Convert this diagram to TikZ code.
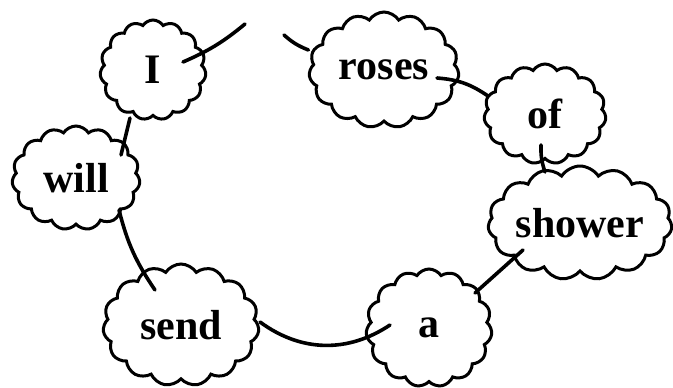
\documentclass[tikz,border=0pt]{standalone}
\usepackage{fontspec}
\setmainfont{Liberation Serif}
\usetikzlibrary{shapes.symbols,calc}
\begin{document}
\begin{tikzpicture}[x=1pt,y=-1pt,
  word/.style={cloud, cloud puffs=15, cloud puff arc=115, draw, line width=3pt,
    cloud ignores aspect, inner sep=0pt,
    font=\fontsize{42}{42}\selectfont\bfseries},
  link/.style={line width=3.6pt, line cap=round}]
\useasboundingbox (0,0) rectangle (673,388);
\node[word, minimum width=106, minimum height=100] (I) at (153,70) {I};
\node[word, minimum width=128, minimum height=104] (will) at (76,178) {will};
\node[word, minimum width=150, minimum height=116] (roses) at (384,70) {roses};
\node[word, minimum width=122, minimum height=100] (of) at (545,114) {of};
\node[word, minimum width=184, minimum height=114] (shower) at (580,223) {shower};
\node[word, minimum width=126, minimum height=118] (a) at (429,328) {a};
\node[word, minimum width=156, minimum height=122] (send) at (181,325) {send};
\coordinate (e1) at (245,24);
\coordinate (e2) at (284,35);
\draw[link] ($(I)+(30,-8)$) to[bend right=8] (e1);
\draw[link] (e2) to[bend right=10] (roses.west |- 0,50);
\draw[link] ($(roses)+(53,8)$) to[bend left=15] ($(of)+(-57,-18)$);
\draw[link] ($(of)+(-4,31)$) to[bend right=10] ($(shower)+(-35,-51)$);
\draw[link] ($(shower)+(-57,27)$) -- ($(a)+(46,-35)$);
\draw[link] ($(a)+(-39,-3)$) to[bend left=35] ($(send)+(79,-3)$);
\draw[link] ($(send)+(-26,-35)$) to[bend left=10] ($(will)+(43,32)$);
\draw[link] ($(will)+(45,-23)$) -- ($(I)+(-23,48)$);
\end{tikzpicture}
\end{document}
